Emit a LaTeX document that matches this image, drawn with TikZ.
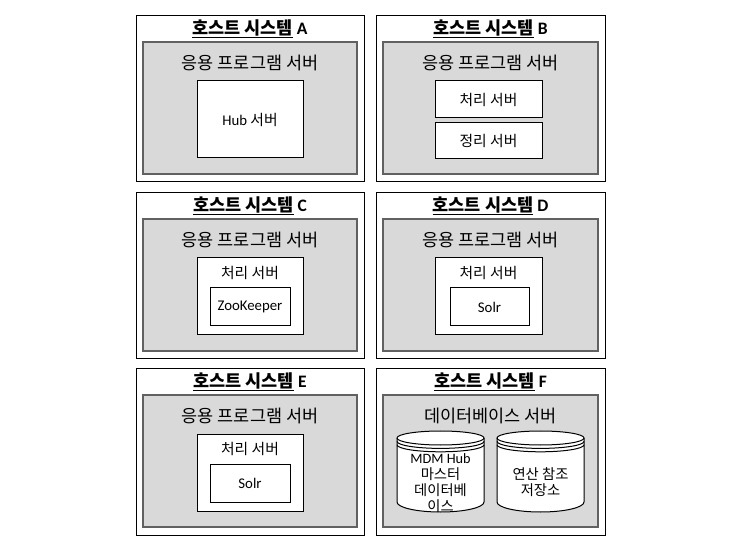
\documentclass[tikz,border=0pt]{standalone}
\usepackage{fontspec}
\setmainfont{Carlito}
\newfontfamily\kr{Noto Sans CJK KR}
\newcommand\K[1]{{\kr #1}}
\newcommand\hosttitle[1]{\underline{\K{호스트 시스템}} #1}
\begin{document}
\begin{tikzpicture}[x=1pt,y=-1pt,
  host/.style={draw=black,line width=1pt,fill=white,inner sep=0pt,outer sep=0pt,anchor=north west},
  appsrv/.style={draw=black!62,line width=1.6pt,fill=black!15,inner sep=0pt,outer sep=0pt,anchor=north west},
  srvbox/.style={draw=black,line width=1pt,fill=white,inner sep=0pt,outer sep=0pt,font=\fontsize{14.8}{16}\selectfont},
  ttl/.style={font=\fontsize{17.5}{19}\selectfont\bfseries,inner sep=0pt},
  lbl/.style={font=\fontsize{17.5}{19}\selectfont,inner sep=0pt},
  inlbl/.style={font=\fontsize{14.8}{16}\selectfont,inner sep=0pt},
  cylbody/.style={draw=black,line width=1pt,fill=white},
  cylline/.style={draw=black,line width=1pt},
  cyltxt/.style={font=\fontsize{14.3}{16}\selectfont,align=center,inner sep=0pt}]
\useasboundingbox (0,0) rectangle (756,548);

% host systems
\node[host,minimum width=228pt,minimum height=166pt] (hA) at (136,16) {};
\node[host,minimum width=229pt,minimum height=166pt] (hB) at (376,16) {};
\node[host,minimum width=228pt,minimum height=166pt] (hC) at (136,193) {};
\node[host,minimum width=229pt,minimum height=166pt] (hD) at (376,193) {};
\node[host,minimum width=228pt,minimum height=166pt] (hE) at (136,369) {};
\node[host,minimum width=229pt,minimum height=166pt] (hF) at (376,369) {};

\node[ttl] (tA) at (250,29) {\hosttitle{A}};
\node[ttl] (tB) at (490.5,29) {\hosttitle{B}};
\node[ttl] (tC) at (250,206) {\hosttitle{C}};
\node[ttl] (tD) at (490.5,206) {\hosttitle{D}};
\node[ttl] (tE) at (250,382) {\hosttitle{E}};
\node[ttl] (tF) at (490.5,382) {\hosttitle{F}};

% application / database servers
\node[appsrv,minimum width=214pt,minimum height=132pt] (aA) at (143,42) {};
\node[appsrv,minimum width=215pt,minimum height=132pt] (aB) at (383,42) {};
\node[appsrv,minimum width=214pt,minimum height=132pt] (aC) at (143,219) {};
\node[appsrv,minimum width=215pt,minimum height=132pt] (aD) at (383,219) {};
\node[appsrv,minimum width=214pt,minimum height=132pt] (aE) at (143,395) {};
\node[appsrv,minimum width=215pt,minimum height=132pt] (aF) at (383,395) {};

\node[lbl] (lA) at (250,63) {\K{응용 프로그램 서버}};
\node[lbl] (lB) at (490.5,63) {\K{응용 프로그램 서버}};
\node[lbl] (lC) at (250,240) {\K{응용 프로그램 서버}};
\node[lbl] (lD) at (490.5,240) {\K{응용 프로그램 서버}};
\node[lbl] (lE) at (250,416) {\K{응용 프로그램 서버}};
\node[lbl] (lF) at (490.5,416) {\K{데이터베이스 서버}};

% A
\node[srvbox,minimum width=106pt,minimum height=77pt] (hub) at (250,119.5) {Hub \K{서버}};
% B
\node[srvbox,minimum width=107pt,minimum height=37pt] (procB) at (488.5,99.5) {\K{처리 서버}};
\node[srvbox,minimum width=107pt,minimum height=36pt] (sortB) at (488.5,141) {\K{정리 서버}};
% C
\node[srvbox,minimum width=106pt,minimum height=77pt] (procC) at (250,296.5) {};
\node[inlbl] (plC) at (250,273) {\K{처리 서버}};
\node[srvbox,minimum width=80pt,minimum height=38pt] (zk) at (250,307) {ZooKeeper};
% D
\node[srvbox,minimum width=107pt,minimum height=77pt] (procD) at (488.5,296.5) {};
\node[inlbl] (plD) at (488.5,273) {\K{처리 서버}};
\node[srvbox,minimum width=79pt,minimum height=38pt] (solrD) at (489.5,307) {Solr};
% E
\node[srvbox,minimum width=106pt,minimum height=77pt] (procE) at (250,472.5) {};
\node[inlbl] (plE) at (250,449) {\K{처리 서버}};
\node[srvbox,minimum width=80pt,minimum height=38pt] (solrE) at (250,483) {Solr};

% F cylinders
\foreach \L/\R in {397/484, 497/584}{
  \pgfmathsetmacro\rx{(\R-\L)/2}
  \draw[cylbody] (\L,438) -- (\L,502) arc[start angle=180,end angle=360,x radius=\rx pt,y radius=10pt]
     -- (\R,438) arc[start angle=0,end angle=180,x radius=\rx pt,y radius=7pt] -- cycle;
  \draw[cylline] (\L,438) arc[start angle=180,end angle=360,x radius=\rx pt,y radius=7pt];
  \draw[cylline] (\L,441.4) arc[start angle=180,end angle=360,x radius=\rx pt,y radius=7pt];
  \draw[cylline] (\L,444.8) arc[start angle=180,end angle=360,x radius=\rx pt,y radius=7pt];
}
\node[cyltxt] (db1) at (440.5,483.5) {MDM Hub\\\K{마스터}\\\K{데이터베}\\\K{이스}};
\node[cyltxt] (db2) at (540.5,482.5) {\K{연산 참조}\\\K{저장소}};
\end{tikzpicture}
\end{document}
